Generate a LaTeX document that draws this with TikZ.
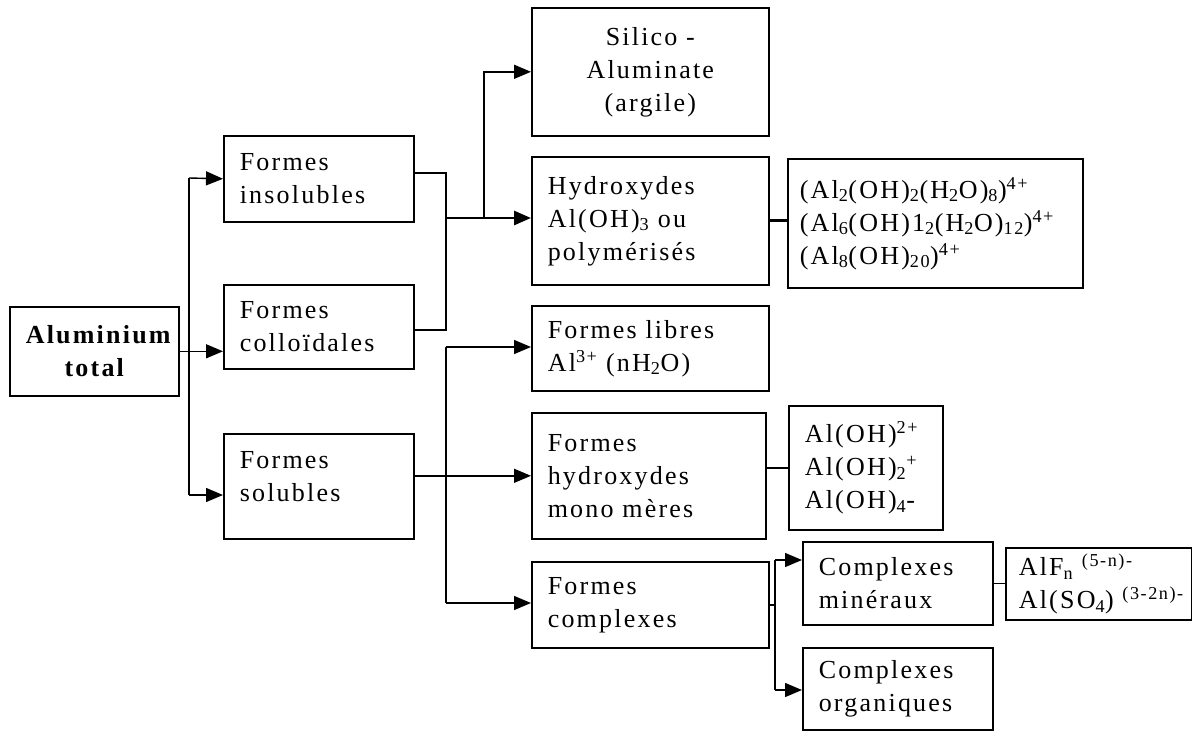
\documentclass[tikz,border=0pt]{standalone}
\usepackage{fontspec}
\setmainfont{Liberation Serif}[LetterSpace=8.5]
\usetikzlibrary{arrows.meta,positioning,calc}
\newcommand{\boxfont}{\fontsize{26}{33}\selectfont}

\begin{document}
\begin{tikzpicture}[
    x=1pt, y=-1pt,
    box/.style={draw, rectangle, line width=1.6pt, inner xsep=16pt, inner ysep=4pt,
                align=left, anchor=north west, font=\boxfont},
    link/.style={line width=1.4pt},
    thicklink/.style={line width=2.8pt},
    arr/.style={link, -{Triangle[length=17pt,width=14pt]}},
    thickarr/.style={thicklink, -{Triangle[length=17pt,width=14pt]}},
]
\useasboundingbox (0,0) rectangle (1192,731);

% ============ LEFT: total and the three forms ============
\node[box, text width=137pt, minimum height=89pt, align=center, font=\boxfont\bfseries]
  (alu) at (9,306) {Aluminium\\total};
\node[box, text width=158pt, minimum height=86pt] (ins) at (223,135) {Formes\\insolubles};
\node[box, text width=158pt, minimum height=84pt] (col) at (223,284) {Formes\\colloïdales};
\node[box, text width=158pt, minimum height=105pt, text depth=52pt] (sol) at (223,433)
  {Formes\\solubles};

% ============ MIDDLE column ============
\node[box, text width=205pt, minimum height=128pt, align=center] (sil) at (531,7)
  {Silico -\\Aluminate\\(argile)};
\node[box, text width=205pt, minimum height=128pt] (hyd) at (531,156)
  {Hydroxydes\\Al(OH)\textsubscript{3} ou\\polymérisés};
\node[box, text width=205pt, minimum height=85pt] (lib) at (531,305)
  {Formes libres\\Al\textsuperscript{3+} (nH\textsubscript{2}O)};
\node[box, text width=202pt, minimum height=126pt] (mono) at (531,412)
  {Formes\\hydroxydes\\mono mères};
\node[box, text width=205pt, minimum height=86pt] (cplx) at (531,561)
  {Formes\\complexes};

% ============ RIGHT: species and complexes ============
\node[box, inner xsep=12pt, text width=271pt, minimum height=129pt] (poly) at (787,158)
  {(Al\textsubscript{2}(OH)\textsubscript{2}(H\textsubscript{2}O)\textsubscript{8})\textsuperscript{4+}\\
   (Al\textsubscript{6}(OH)1\textsubscript{2}(H\textsubscript{2}O)\textsubscript{12})\textsuperscript{4+}\\
   (Al\textsubscript{8}(OH)\textsubscript{20})\textsuperscript{4+}};
\node[box, text width=122pt, minimum height=124pt] (ion) at (788,405)
  {Al(OH)\textsuperscript{2+}\\Al(OH)\textsubscript{2}\textsuperscript{+}\\Al(OH)\textsubscript{4}-};
\node[box, text width=158pt, minimum height=83pt] (min) at (802,541) {Complexes\\minéraux};
\node[box, text width=158pt, minimum height=82pt] (org) at (802,647) {Complexes\\organiques};
\node[box, inner xsep=13pt, text width=160pt, minimum height=72pt] (alf) at (1005,547)
  {\mbox{AlF\textsubscript{n} \textsuperscript{(5-n)-}}\\
   \mbox{Al(SO\textsubscript{4}) \textsuperscript{(3-2n)-}}};

% ============ CONNECTORS ============
% total -> forms
\coordinate (ja) at (189,178);
\coordinate (jb) at (189,495);
\draw[link] (ja) -- (jb);
\draw[arr] (ja) -- (ins.west);
\draw[arr] (alu.east) -- (col.west |- alu.east);
\draw[arr] (jb) -- (sol.west |- jb);

% insoluble + colloidal -> hydroxydes, silico-aluminate
\coordinate (jc) at (446,173);
\coordinate (jd) at (446,330);
\coordinate (je) at (446,218);
\coordinate (jf) at (484,218);
\draw[thicklink] (ins.east |- jc) -- (jc) -- (je);
\draw[link] (je) -- (jd) -- (col.east |- jd);
\draw[thickarr] (je) -- (hyd.west |- je);
\draw[arr] (jf) |- (sil.west);
\draw[thicklink] (hyd.east) -- (poly.west |- hyd.east);

% soluble -> libres, monomeres, complexes
\coordinate (jg) at (446,347);
\coordinate (jh) at (446,603);
\draw[link] (jg) -- (jh);
\draw[arr] (jg) -- (lib.west |- jg);
\draw[arr] (sol.east |- mono.west) -- (mono.west);
\draw[arr] (jh) -- (cplx.west |- jh);
\draw[link] (mono.east |- ion.west) -- (ion.west);

% complexes -> mineraux, organiques
\coordinate (ji) at (775,560);
\coordinate (jj) at (775,690);
\draw[link] (cplx.east) -- (cplx.east -| ji);
\draw[link] (ji) -- (jj);
\draw[arr] (ji) -- (min.west |- ji);
\draw[arr] (jj) -- (org.west |- jj);
\draw[link] (min.east) -- (alf.west |- min.east);

\end{tikzpicture}
\end{document}
